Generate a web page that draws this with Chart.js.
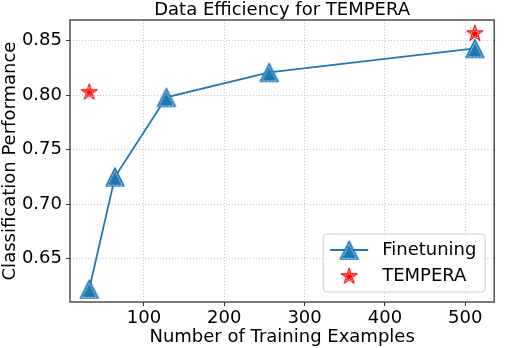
<!DOCTYPE html>
<html>
<head>
<meta charset="utf-8">
<script src="https://cdn.jsdelivr.net/npm/chart.js@4.4.1/dist/chart.umd.min.js"></script>
<style>
  html, body { margin: 0; padding: 0; background: #fff; }
  #wrap { width: 506px; height: 348px; }
</style>
</head>
<body>
<div id="wrap"><canvas id="chart" width="506" height="348"></canvas></div>
<script>
// data
var fineX = [32, 64, 128, 256, 512];
var fineY = [0.622, 0.725, 0.798, 0.821, 0.843];
var temperaX = [32, 512];
var temperaY = [0.803, 0.857];
var xTicks = [100, 200, 300, 400, 500];
var yTicks = [0.65, 0.70, 0.75, 0.80, 0.85];

var BLUE = '#1f77b4';
var RED = '#ff0000';
var FONT = "'DejaVu Sans', sans-serif";

function triPath(c, cx, cy, h) {
    c.beginPath();
    c.moveTo(cx, cy - h);
    c.lineTo(cx - h, cy + h);
    c.lineTo(cx + h, cy + h);
    c.closePath();
}

function starPath(c, cx, cy, r) {
    var ri = r * 0.382;
    c.beginPath();
    for (var i = 0; i < 10; i++) {
        var a = -Math.PI / 2 + i * Math.PI / 5;
        var rr = i % 2 === 0 ? r : ri;
        var px = cx + Math.cos(a) * rr, py = cy + Math.sin(a) * rr;
        if (i === 0) c.moveTo(px, py); else c.lineTo(px, py);
    }
    c.closePath();
}

function makeTriangle() {
    var cv = document.createElement('canvas');
    cv.width = 22; cv.height = 22;
    var c = cv.getContext('2d');
    triPath(c, 11, 11, 9.3);
    c.fillStyle = BLUE; c.fill();
    c.strokeStyle = BLUE; c.lineWidth = 1; c.stroke();
    triPath(c, 11, 12.4, 7.2);
    c.strokeStyle = 'rgba(255,255,255,0.8)'; c.lineWidth = 0.8;
    c.setLineDash([2.5, 1]); c.stroke();
    return cv;
}

function makeStar() {
    var cv = document.createElement('canvas');
    cv.width = 20; cv.height = 20;
    var c = cv.getContext('2d');
    starPath(c, 10, 10.5, 8.6);
    c.fillStyle = RED; c.fill();
    c.strokeStyle = RED; c.lineWidth = 1; c.stroke();
    starPath(c, 10, 10.7, 5.8);
    c.strokeStyle = 'rgba(255,255,255,0.85)'; c.lineWidth = 0.9;
    c.setLineDash([1.5, 1]); c.stroke();
    return cv;
}

var triImg = makeTriangle();
var starImg = makeStar();

function toPoints(xs, ys) {
    return xs.map(function (x, i) { return { x: x, y: ys[i] }; });
}

var frame = {
    id: 'frame',
    afterDraw: function (chart) {
        var a = chart.chartArea, c = chart.ctx;
        c.save();
        c.strokeStyle = '#333';
        c.lineWidth = 1.3;
        c.strokeRect(a.left, a.top, a.right - a.left, a.bottom - a.top);

        // title centred over the axes, as matplotlib does
        c.fillStyle = '#000';
        c.font = '18px ' + FONT;
        c.textAlign = 'center';
        c.textBaseline = 'middle';
        c.fillText('Data Efficiency for TEMPERA', (a.left + a.right) / 2, a.top - 10);

        // legend, matplotlib style, lower right inside the axes
        var w = 162, h = 58;
        var lx = a.right - 9 - w, ly = a.bottom - 10 - h;
        c.beginPath();
        c.roundRect(lx, ly, w, h, 4);
        c.fillStyle = 'rgba(255,255,255,0.8)';
        c.fill();
        c.strokeStyle = '#cccccc';
        c.lineWidth = 1;
        c.stroke();

        var row1 = ly + 16, row2 = ly + 42;
        c.beginPath();
        c.moveTo(lx + 7, row1);
        c.lineTo(lx + 45, row1);
        c.strokeStyle = BLUE;
        c.lineWidth = 1.8;
        c.stroke();
        c.drawImage(triImg, lx + 26 - triImg.width / 2, row1 - triImg.height / 2);
        c.drawImage(starImg, lx + 26 - starImg.width / 2, row2 - starImg.height / 2);

        c.fillStyle = '#000';
        c.textAlign = 'left';
        c.fillText('Finetuning', lx + 59, row1);
        c.fillText('TEMPERA', lx + 59, row2);
        c.restore();
    }
};

var gridOpts = {
    color: 'rgba(176,176,176,0.9)',
    lineWidth: 0.8,
    tickColor: '#333',
    tickWidth: 1,
    tickBorderDash: [],
    tickLength: 4
};
var borderOpts = { display: false, dash: [1, 2] };

new Chart(document.getElementById('chart'), {
    type: 'scatter',
    data: {
        datasets: [
            {
                label: 'Finetuning',
                data: toPoints(fineX, fineY),
                showLine: true,
                borderColor: BLUE,
                borderWidth: 1.8,
                pointStyle: triImg,
                pointRadius: 10,
                tension: 0
            },
            {
                label: 'TEMPERA',
                data: toPoints(temperaX, temperaY),
                showLine: false,
                pointStyle: starImg,
                pointRadius: 10
            }
        ]
    },
    options: {
        responsive: false,
        animation: false,
        layout: { padding: { left: 0, right: 2, top: 20, bottom: 0 } },
        plugins: {
            legend: { display: false },
            tooltip: { enabled: false },
            title: { display: false }
        },
        scales: {
            x: {
                type: 'linear',
                min: 8,
                max: 536,
                afterBuildTicks: function (axis) {
                    axis.ticks = xTicks.map(function (v) { return { value: v }; });
                },
                afterFit: function (axis) { axis.height = 46; },
                grid: gridOpts,
                border: borderOpts,
                ticks: {
                    color: '#000',
                    font: { family: FONT, size: 18 },
                    padding: 2,
                    maxRotation: 0
                },
                title: {
                    display: true,
                    text: 'Number of Training Examples',
                    color: '#000',
                    font: { family: FONT, size: 18 },
                    padding: { top: 0, bottom: 0 }
                }
            },
            y: {
                type: 'linear',
                min: 0.610,
                max: 0.869,
                afterBuildTicks: function (axis) {
                    axis.ticks = yTicks.map(function (v) { return { value: v }; });
                },
                afterFit: function (axis) { axis.width = 70; },
                grid: gridOpts,
                border: borderOpts,
                ticks: {
                    color: '#000',
                    font: { family: FONT, size: 18 },
                    padding: 4,
                    callback: function (v) { return v.toFixed(2); }
                },
                title: {
                    display: true,
                    text: 'Classification Performance',
                    color: '#000',
                    font: { family: FONT, size: 18 },
                    padding: { top: 0, bottom: 0 }
                }
            }
        }
    },
    plugins: [frame]
});
</script>
</body>
</html>
